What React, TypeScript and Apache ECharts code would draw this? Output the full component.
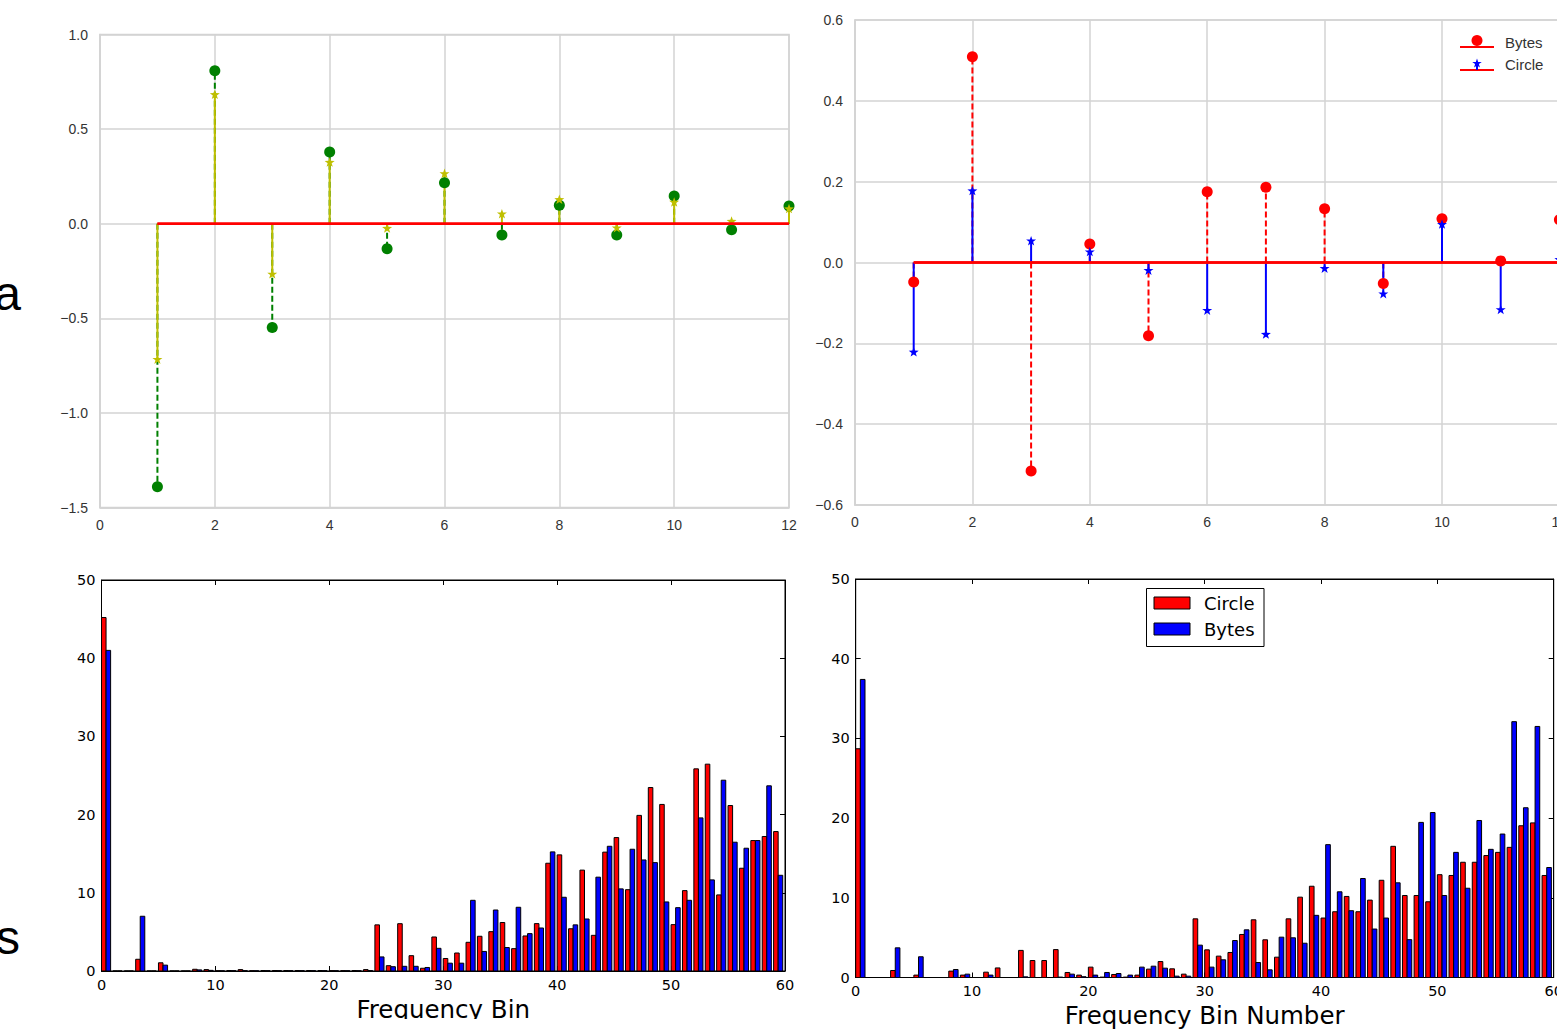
import React, { useEffect, useRef } from "react";
import * as echarts from "echarts";

// ---------- data ----------
const stemX = [1, 2, 3, 4, 5, 6, 7, 8, 9, 10, 11, 12];
// top-left stem plot
const tlCircle = [-1.39, 0.808, -0.549, 0.379, -0.132, 0.217, -0.06, 0.097, -0.06, 0.146, -0.032, 0.093];
const tlStar = [-0.716, 0.684, -0.265, 0.326, -0.023, 0.266, 0.053, 0.129, -0.021, 0.115, 0.014, 0.08];
// top-right stem plot
const trBytes = [-0.048, 0.509, -0.516, 0.046, -0.181, 0.175, 0.186, 0.133, -0.052, 0.108, 0.004, 0.106];
const trCircle = [-0.221, 0.178, 0.054, 0.027, -0.019, -0.118, -0.177, -0.014, -0.077, 0.095, -0.116, 0.008];

// bottom-left histogram (bins 0..59)
const blRed = [
  45.2, 0, 0, 1.5, 0, 1.05, 0, 0, 0.22, 0.18,
  0.03, 0.06, 0.18, 0.03, 0.06, 0.06, 0.06, 0.06, 0.06, 0.06,
  0.04, 0.04, 0.06, 0.18, 5.9, 0.68, 6.05, 1.96, 0.35, 4.35,
  1.6, 2.3, 3.67, 4.44, 5.03, 6.2, 2.86, 4.48, 6.06, 13.78,
  14.85, 5.4, 12.9, 4.56, 15.2, 17.06, 10.4, 19.9, 23.46, 21.3,
  5.93, 10.28, 25.85, 26.45, 9.73, 21.16, 13.14, 16.68, 17.2, 17.83,
];
const blBlue = [
  41.0, 0, 0, 7.0, 0, 0.75, 0, 0, 0.14, 0.08,
  0.02, 0.04, 0.04, 0.02, 0.04, 0.04, 0.04, 0.04, 0.04, 0.04,
  0.03, 0.03, 0.03, 0.05, 1.8, 0.55, 0.6, 0.6, 0.45, 2.9,
  1.0, 1.0, 9.04, 2.5, 7.8, 3.0, 8.15, 4.78, 5.5, 15.23,
  9.43, 5.9, 6.65, 12.0, 15.95, 10.5, 15.57, 14.2, 13.86, 8.83,
  8.1, 9.04, 19.58, 11.65, 24.4, 16.47, 15.7, 16.68, 23.68, 12.24,
];
// bottom-right histogram (bins 0..59)
const brCircle = [
  28.7, 0, 0, 0.88, 0, 0.3, 0, 0, 0.8, 0.3,
  0, 0.67, 1.2, 0, 3.4, 2.13, 2.13, 3.5, 0.63, 0.3,
  1.3, 0.05, 0.38, 0.05, 0.3, 1.05, 2.0, 1.09, 0.42, 7.36,
  3.47, 2.68, 3.14, 5.4, 7.24, 4.73, 2.55, 7.36, 10.08, 11.45,
  7.46, 8.25, 10.17, 8.25, 9.71, 12.2, 16.46, 10.29, 10.29, 9.5,
  12.9, 12.8, 14.46, 14.46, 15.3, 15.7, 16.33, 19.04, 19.4, 12.8,
];
const brBytes = [
  37.4, 0, 0, 3.72, 0, 2.6, 0, 0, 1.0, 0.42,
  0, 0.3, 0, 0, 0.08, 0, 0, 0.05, 0.42, 0.1,
  0.3, 0.63, 0.5, 0.3, 1.3, 1.42, 1.17, 0.17, 0.17, 4.06,
  1.3, 2.22, 4.64, 5.98, 1.88, 0.96, 5.06, 4.98, 4.3, 7.8,
  16.67, 10.75, 8.38, 12.42, 6.08, 7.46, 11.88, 4.75, 19.46, 20.7,
  10.29, 15.7, 11.2, 19.7, 16.08, 18.0, 32.1, 21.3, 31.5, 13.8,
];

const tlYTicks = { min: -1.5, max: 1.0, interval: 0.5 };
const trYTicks = { min: -0.6, max: 0.6, interval: 0.2 };
const stemXTicks = { min: 0, max: 12, interval: 2 };
const binXTicks = { min: 0, max: 60, interval: 10 };
const countYTicks = { min: 0, max: 50, interval: 10 };

// ---------- styles ----------
const RED = "#ff0000";
const BLUE = "#0000ff";
const GREEN = "#008000";
const YELLOW = "#bfbf00";
const GRIDC = "#d3d3d3";
const STAR_PTS: number[][] = [
  [0, -10], [2.35, -3.24], [9.51, -3.09], [3.8, 1.24], [5.88, 8.09],
  [0, 4], [-5.88, 8.09], [-3.8, 1.24], [-9.51, -3.09], [-2.35, -3.24],
];
const STAR = "path://M" + STAR_PTS.map((p) => p[0] + "," + p[1]).join("L") + "Z";

const topLabel = { fontFamily: "Liberation Sans, Arial, sans-serif", fontSize: 14, color: "#333" };
const botLabel = { fontFamily: "DejaVu Sans, sans-serif", fontSize: 14.5, color: "#000" };

const minusFmt = (d: number) => (v: number) => {
  const x = Math.abs(v) < 1e-9 ? 0 : v;
  return x.toFixed(d).replace("-", "\u2212");
};

function stemRender(color: string, dashed: boolean) {
  return (_p: any, api: any) => {
    const x = api.value(0);
    const v = api.value(1);
    const a = api.coord([x, 0]);
    const b = api.coord([x, v]);
    return {
      type: "line",
      shape: { x1: a[0], y1: a[1], x2: b[0], y2: b[1] },
      style: { stroke: color, lineWidth: 2, lineDash: dashed ? [6, 3] : null },
    };
  };
}

function barRender(color: string, offset: number, width: number) {
  return (_p: any, api: any) => {
    const x = api.value(0);
    const v = api.value(1);
    const p0 = api.coord([x + offset, 0]);
    const p1 = api.coord([x + offset + width, v]);
    return {
      type: "rect",
      shape: { x: p0[0], y: p1[1], width: p1[0] - p0[0], height: p0[1] - p1[1] },
      style: { fill: color, stroke: "#000", lineWidth: 1 },
    };
  };
}

function topXAxis(gi: number) {
  return {
    type: "value", gridIndex: gi, ...stemXTicks,
    axisLine: { show: true, onZero: false, lineStyle: { color: GRIDC, width: 1.5 } },
    axisTick: { show: false },
    splitLine: { show: true, lineStyle: { color: GRIDC, width: 1.5 } },
    axisLabel: { ...topLabel, margin: 10, formatter: (v: number) => String(Math.round(v)) },
  };
}
function topYAxis(gi: number, ticks: any) {
  return {
    type: "value", gridIndex: gi, ...ticks,
    axisLine: { show: true, onZero: false, lineStyle: { color: GRIDC, width: 1.5 } },
    axisTick: { show: false },
    splitLine: { show: true, lineStyle: { color: GRIDC, width: 1.5 } },
    axisLabel: { ...topLabel, margin: 12, formatter: minusFmt(1) },
  };
}
function botXAxis(gi: number, pos: string, labels: boolean, name?: string) {
  return {
    type: "value", gridIndex: gi, position: pos, ...binXTicks,
    axisLine: { show: true, onZero: false, lineStyle: { color: "#000", width: 1 } },
    axisTick: { show: true, inside: true, length: 5, lineStyle: { color: "#000" } },
    splitLine: { show: false },
    axisLabel: labels ? { ...botLabel, margin: 6, formatter: (v: number) => String(Math.round(v)) } : { show: false },
    name: name || "",
    nameLocation: "middle",
    nameGap: 38,
    nameTextStyle: { fontFamily: "DejaVu Sans, sans-serif", fontSize: 24.5, color: "#000", verticalAlign: "middle" },
  };
}
function botYAxis(gi: number, pos: string, labels: boolean) {
  return {
    type: "value", gridIndex: gi, position: pos, ...countYTicks,
    axisLine: { show: true, onZero: false, lineStyle: { color: "#000", width: 1 } },
    axisTick: { show: true, inside: true, length: 5, lineStyle: { color: "#000" } },
    splitLine: { show: false },
    axisLabel: labels ? { ...botLabel, margin: 6, formatter: (v: number) => String(Math.round(v)) } : { show: false },
  };
}

function stemSeries(xi: number, vals: number[], color: string, dashed: boolean) {
  return {
    type: "custom", xAxisIndex: xi, yAxisIndex: xi, silent: true,
    renderItem: stemRender(color, dashed),
    encode: { x: 0, y: 1 },
    data: stemX.map((x, i) => [x, vals[i]]),
  };
}
function markerSeries(xi: number, vals: number[], color: string, symbol: string, size: number) {
  return {
    type: "scatter", xAxisIndex: xi, yAxisIndex: xi, silent: true,
    symbol, symbolSize: size, symbolKeepAspect: true,
    itemStyle: { color, opacity: 1 },
    data: stemX.map((x, i) => [x, vals[i]]),
  };
}
function baseline(xi: number) {
  return {
    type: "line", xAxisIndex: xi, yAxisIndex: xi, silent: true,
    showSymbol: false, symbol: "none",
    lineStyle: { color: RED, width: 2.5 },
    data: [[stemX[0], 0], [stemX[stemX.length - 1], 0]],
  };
}
function barSeries(xi: number, yi: number, vals: number[], color: string, offset: number) {
  return {
    type: "custom", xAxisIndex: xi, yAxisIndex: yi, silent: true, clip: true,
    renderItem: barRender(color, offset, 0.4),
    encode: { x: 0, y: 1 },
    data: vals.map((v, i) => [i, v]),
  };
}

function starPoints(cx: number, cy: number, s: number) {
  return STAR_PTS.map((p) => [cx + p[0] * s, cy + p[1] * s]);
}

function buildOption() {
  const legendFont = "Liberation Sans, Arial, sans-serif";
  return {
    animation: false,
    backgroundColor: "#fff",
    grid: [
      { left: 100, top: 34.5, width: 689, height: 473, show: true, borderColor: GRIDC, borderWidth: 1.5 },
      { left: 855, top: 20, width: 704.4, height: 485, show: true, borderColor: GRIDC, borderWidth: 1.5 },
      { left: 101.5, top: 580, width: 683.5, height: 391, show: true, borderColor: "#000", borderWidth: 1 },
      { left: 855.7, top: 579, width: 698, height: 399, show: true, borderColor: "#000", borderWidth: 1 },
    ],
    xAxis: [
      topXAxis(0),
      topXAxis(1),
      botXAxis(2, "bottom", true, "Frequency Bin"),
      botXAxis(2, "top", false),
      botXAxis(3, "bottom", true, "Frequency Bin Number"),
      botXAxis(3, "top", false),
    ],
    yAxis: [
      topYAxis(0, tlYTicks),
      topYAxis(1, trYTicks),
      botYAxis(2, "left", true),
      botYAxis(2, "right", false),
      botYAxis(3, "left", true),
      botYAxis(3, "right", false),
    ],
    series: [
      // top-left
      stemSeries(0, tlCircle, GREEN, true),
      markerSeries(0, tlCircle, GREEN, "circle", 11),
      baseline(0),
      stemSeries(0, tlStar, YELLOW, false),
      markerSeries(0, tlStar, YELLOW, STAR, 10),
      baseline(0),
      // top-right
      stemSeries(1, trBytes, RED, true),
      markerSeries(1, trBytes, RED, "circle", 11),
      baseline(1),
      stemSeries(1, trCircle, BLUE, false),
      markerSeries(1, trCircle, BLUE, STAR, 10),
      baseline(1),
      // bottom-left
      barSeries(2, 2, blRed, RED, 0),
      barSeries(2, 2, blBlue, BLUE, 0.4),
      // bottom-right
      barSeries(4, 4, brCircle, RED, 0),
      barSeries(4, 4, brBytes, BLUE, 0.4),
    ],
    graphic: [
      // clipped side labels
      { type: "text", x: 21, y: 293, z: 100, style: { text: "a", fontSize: 48, fontFamily: legendFont, fill: "#000", align: "right", verticalAlign: "middle" } },
      { type: "text", x: 20, y: 937, z: 100, style: { text: "s", fontSize: 48, fontFamily: legendFont, fill: "#000", align: "right", verticalAlign: "middle" } },
      // top-right legend
      { type: "line", z: 100, shape: { x1: 1460, y1: 47, x2: 1494, y2: 47 }, style: { stroke: RED, lineWidth: 2 } },
      { type: "circle", z: 101, shape: { cx: 1477, cy: 40.5, r: 5.5 }, style: { fill: RED } },
      { type: "text", x: 1505, y: 42, z: 100, style: { text: "Bytes", fontSize: 15, fontFamily: legendFont, fill: "#333", align: "left", verticalAlign: "middle" } },
      { type: "line", z: 100, shape: { x1: 1460, y1: 70, x2: 1494, y2: 70 }, style: { stroke: RED, lineWidth: 2 } },
      { type: "line", z: 100, shape: { x1: 1477, y1: 63, x2: 1477, y2: 70 }, style: { stroke: BLUE, lineWidth: 2 } },
      { type: "polygon", z: 101, shape: { points: starPoints(1477, 63.5, 0.5) }, style: { fill: BLUE } },
      { type: "text", x: 1505, y: 64, z: 100, style: { text: "Circle", fontSize: 15, fontFamily: legendFont, fill: "#333", align: "left", verticalAlign: "middle" } },
      // bottom-right legend
      { type: "rect", z: 100, shape: { x: 1146.5, y: 588.5, width: 117.5, height: 58 }, style: { fill: "#fff", stroke: "#000", lineWidth: 1 } },
      { type: "rect", z: 101, shape: { x: 1154, y: 597, width: 36, height: 12 }, style: { fill: RED, stroke: "#000", lineWidth: 1 } },
      { type: "text", x: 1204, y: 603.5, z: 101, style: { text: "Circle", fontSize: 18, fontFamily: "DejaVu Sans, sans-serif", fill: "#000", align: "left", verticalAlign: "middle" } },
      { type: "rect", z: 101, shape: { x: 1154, y: 623, width: 36, height: 12 }, style: { fill: BLUE, stroke: "#000", lineWidth: 1 } },
      { type: "text", x: 1204, y: 629.5, z: 101, style: { text: "Bytes", fontSize: 18, fontFamily: "DejaVu Sans, sans-serif", fill: "#000", align: "left", verticalAlign: "middle" } },
      // bottom-left panel crop edge
      { type: "rect", z: 200, shape: { x: 60, y: 1019, width: 760, height: 12 }, style: { fill: "#fff" } },
    ],
  };
}

export default function App() {
  const ref = useRef<HTMLDivElement>(null);
  useEffect(() => {
    if (!ref.current) return;
    const chart = echarts.init(ref.current, null, { renderer: "svg" });
    chart.setOption(buildOption() as any);
    return () => chart.dispose();
  }, []);
  return (
    <div style={{ position: "fixed", left: 0, top: 0, width: 1557, height: 1029, overflow: "hidden", background: "#fff" }}>
      <div ref={ref} style={{ width: 1580, height: 1029 }} />
    </div>
  );
}
